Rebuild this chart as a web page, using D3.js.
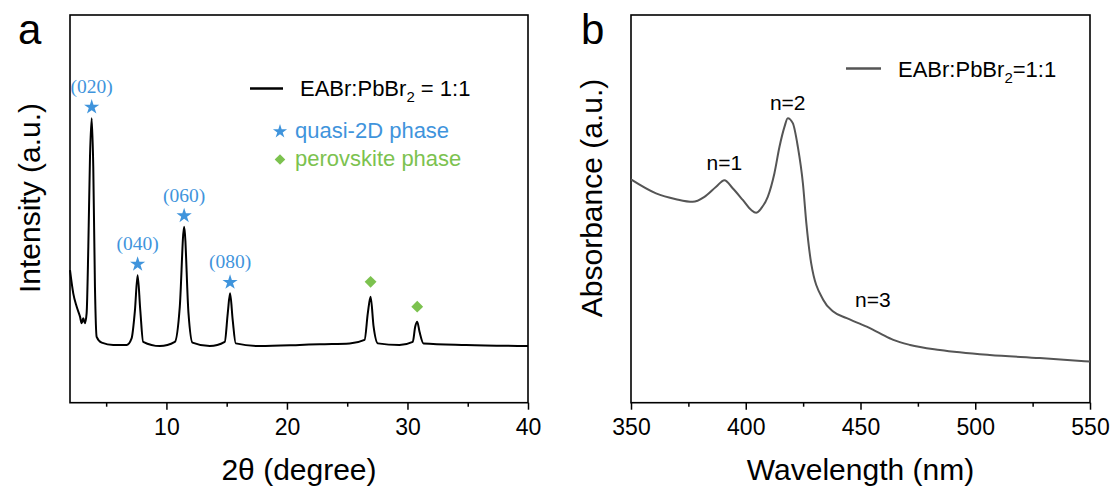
<!DOCTYPE html>
<html>
<head>
<meta charset="utf-8">
<script src="https://cdn.jsdelivr.net/npm/d3@7"></script>
<style>
  body { margin: 0; background: #fff; }
  text { font-family: Arial, "Liberation Sans", sans-serif; }
</style>
</head>
<body>
<svg id="chart" width="1116" height="490"></svg>
<script>
'use strict'

// panel a: XRD pattern
const xrdTheta = [2.0, 2.27, 2.55, 2.83, 2.97, 3.10, 3.24, 3.38, 3.52, 3.66, 3.80, 3.93, 4.07, 4.21, 4.63, 5.59, 6.70,
  7.11, 7.39, 7.61, 7.83, 8.07, 9.46, 10.70, 11.11, 11.47, 11.83, 12.16, 13.60, 14.84, 15.09, 15.28, 15.50, 15.75,
  17.74, 21.06, 22.71, 25.2, 26.44, 26.71, 26.94, 27.19, 27.54, 29.34, 30.44, 30.64, 30.81, 31.0, 31.33, 34.87, 40]
const xrdIntensity = [0.342, 0.282, 0.248, 0.222, 0.205, 0.218, 0.205, 0.231, 0.402, 0.635, 0.734, 0.609, 0.299, 0.170, 0.155, 0.149, 0.149,
  0.166, 0.239, 0.329, 0.239, 0.157, 0.146, 0.157, 0.248, 0.454, 0.231, 0.155, 0.146, 0.157, 0.231, 0.282, 0.213, 0.153,
  0.146, 0.149, 0.151, 0.153, 0.162, 0.231, 0.273, 0.196, 0.153, 0.149, 0.157, 0.196, 0.209, 0.183, 0.153, 0.149, 0.146]
const hklLabels = ['(020)', '(040)', '(060)', '(080)']
const hklTheta = [3.80, 7.61, 11.47, 15.28]
const hklPeak = [0.734, 0.329, 0.454, 0.282]
const perovTheta = [26.94, 30.81]
const perovPeak = [0.273, 0.209]
const xTicksA = [10, 20, 30, 40]
const xMinorA = [5, 15, 25, 35]

// panel b: absorbance spectrum
const uvWavelength = [350, 360.9, 369.6, 376.9, 382.0, 387.1, 390.7, 394.3, 398.7, 402.4, 404.5, 406.7, 409.6, 412.5,
  414.7, 416.9, 418.3, 420.5, 422.7, 424.9, 426.4, 428.5, 433.8, 438.1, 444.0, 452.7, 458.5, 464.3, 471.6, 484.6,
  506.3, 528.1, 550]
const uvAbsorbance = [0.576, 0.540, 0.525, 0.518, 0.531, 0.557, 0.574, 0.553, 0.523, 0.497, 0.490, 0.501, 0.531, 0.592,
  0.660, 0.712, 0.734, 0.721, 0.660, 0.566, 0.463, 0.360, 0.265, 0.235, 0.218, 0.196, 0.179, 0.162, 0.149, 0.136,
  0.123, 0.115, 0.106]
const nLabels = ['n=1', 'n=2', 'n=3']
const nWavelength = [390.7, 418.3, 455.4]
const nAbsorbance = [0.574, 0.734, 0.190]
const xTicksB = [350, 400, 450, 500, 550]
const xMinorB = [375, 425, 475, 525]

const blue = '#3f94dc'
const green = '#7cc24f'
const svg = d3.select('#chart')
const plotTop = 15
const plotBottom = 402.7

function frame (x, ticks, minor, title, ytitle, letter, lx, tx) {
  const [x0, x1] = x.range()
  svg.append('rect')
    .attr('x', x0).attr('y', plotTop)
    .attr('width', x1 - x0).attr('height', plotBottom - plotTop)
    .attr('fill', 'none').attr('stroke', '#000').attr('stroke-width', 1.6)

  const major = svg.append('g')
    .attr('transform', `translate(0,${plotBottom})`)
    .call(d3.axisBottom(x).tickValues(ticks).tickSize(7).tickPadding(9).tickFormat(d3.format('d')))
  major.select('.domain').remove()
  major.selectAll('line').attr('stroke-width', 1.5)
  major.selectAll('text').attr('font-size', 23).attr('fill', '#000')
    .style('font-family', 'Arial, "Liberation Sans", sans-serif')

  const mg = svg.append('g')
    .attr('transform', `translate(0,${plotBottom})`)
    .call(d3.axisBottom(x).tickValues(minor).tickSize(4).tickFormat(''))
  mg.select('.domain').remove()
  mg.selectAll('line').attr('stroke-width', 1.5)

  svg.append('text')
    .attr('x', (x0 + x1) / 2).attr('y', 480)
    .attr('text-anchor', 'middle').attr('font-size', 30)
    .text(title)

  svg.append('text')
    .attr('transform', `translate(${tx},198) rotate(-90)`)
    .attr('text-anchor', 'middle').attr('font-size', 30)
    .text(ytitle)

  svg.append('text')
    .attr('x', lx).attr('y', 44)
    .attr('font-size', 42)
    .text(letter)
}

// ---- panel a
const xa = d3.scaleLinear().domain([2, 40]).range([70, 528])
const ya = d3.scaleLinear().domain([0, 1]).range([plotBottom, plotTop])
frame(xa, xTicksA, xMinorA, '2θ (degree)', 'Intensity (a.u.)', 'a', 18, 40)

svg.append('path')
  .datum(xrdTheta.map((t, i) => [t, xrdIntensity[i]]))
  .attr('fill', 'none').attr('stroke', '#000').attr('stroke-width', 2)
  .attr('stroke-linejoin', 'round')
  .attr('d', d3.line().x(d => xa(d[0])).y(d => ya(d[1])).curve(d3.curveMonotoneX))

const star = d3.symbol().type(d3.symbolStar).size(72)
const diamond = d3.symbol().type(d3.symbolSquare).size(70)

svg.selectAll('.hkl-star')
  .data(hklTheta)
  .enter()
  .append('path')
  .attr('class', 'hkl-star')
  .attr('transform', (d, i) => `translate(${xa(d)},${ya(hklPeak[i]) - 11})`)
  .attr('d', star)
  .attr('fill', blue)

svg.selectAll('.hkl-label')
  .data(hklLabels)
  .enter()
  .append('text')
  .attr('class', 'hkl-label')
  .attr('x', (d, i) => xa(hklTheta[i]))
  .attr('y', (d, i) => ya(hklPeak[i]) - 25)
  .attr('text-anchor', 'middle')
  .attr('font-size', 19.5)
  .style('font-family', '"Liberation Serif", "Times New Roman", serif')
  .attr('fill', blue)
  .text(d => d)

svg.selectAll('.perov')
  .data(perovTheta)
  .enter()
  .append('path')
  .attr('class', 'perov')
  .attr('transform', (d, i) => `translate(${xa(d)},${ya(perovPeak[i]) - 15}) rotate(45)`)
  .attr('d', diamond)
  .attr('fill', green)

// legend a
svg.append('line')
  .attr('x1', 250).attr('x2', 283).attr('y1', 88.5).attr('y2', 88.5)
  .attr('stroke', '#000').attr('stroke-width', 2.5)
const la = svg.append('text').attr('x', 300).attr('y', 96).attr('font-size', 22)
la.append('tspan').text('EABr:PbBr')
la.append('tspan').attr('font-size', 15).attr('dy', 6).text('2')
la.append('tspan').attr('dy', -6).text(' = 1:1')

svg.append('path')
  .attr('transform', 'translate(280,131.5)')
  .attr('d', d3.symbol().type(d3.symbolStar).size(62))
  .attr('fill', blue)
svg.append('text')
  .attr('x', 295).attr('y', 137.5).attr('font-size', 22)
  .attr('fill', blue).text('quasi-2D phase')
svg.append('path')
  .attr('transform', 'translate(280,159.5) rotate(45)')
  .attr('d', d3.symbol().type(d3.symbolSquare).size(56))
  .attr('fill', green)
svg.append('text')
  .attr('x', 295).attr('y', 165.5).attr('font-size', 22)
  .attr('fill', green).text('perovskite phase')

// ---- panel b
const xb = d3.scaleLinear().domain([350, 550]).range([631, 1090])
const yb = d3.scaleLinear().domain([0, 1]).range([plotBottom, plotTop])
frame(xb, xTicksB, xMinorB, 'Wavelength (nm)', 'Absorbance (a.u.)', 'b', 581, 602)

svg.append('path')
  .datum(uvWavelength.map((w, i) => [w, uvAbsorbance[i]]))
  .attr('fill', 'none').attr('stroke', '#555').attr('stroke-width', 2)
  .attr('d', d3.line().x(d => xb(d[0])).y(d => yb(d[1])).curve(d3.curveMonotoneX))

const nOffset = [10, 8, 22]
svg.selectAll('.nlab')
  .data(nLabels)
  .enter()
  .append('text')
  .attr('class', 'nlab')
  .attr('x', (d, i) => xb(nWavelength[i]))
  .attr('y', (d, i) => yb(nAbsorbance[i]) - nOffset[i])
  .attr('text-anchor', 'middle')
  .attr('font-size', 21)
  .text(d => d)

// legend b
svg.append('line')
  .attr('x1', 846).attr('x2', 881).attr('y1', 68.5).attr('y2', 68.5)
  .attr('stroke', '#555').attr('stroke-width', 2.5)
const lb = svg.append('text').attr('x', 898).attr('y', 77).attr('font-size', 22)
lb.append('tspan').text('EABr:PbBr')
lb.append('tspan').attr('font-size', 15).attr('dy', 6).text('2')
lb.append('tspan').attr('dy', -6).text('=1:1')
</script>
</body>
</html>
